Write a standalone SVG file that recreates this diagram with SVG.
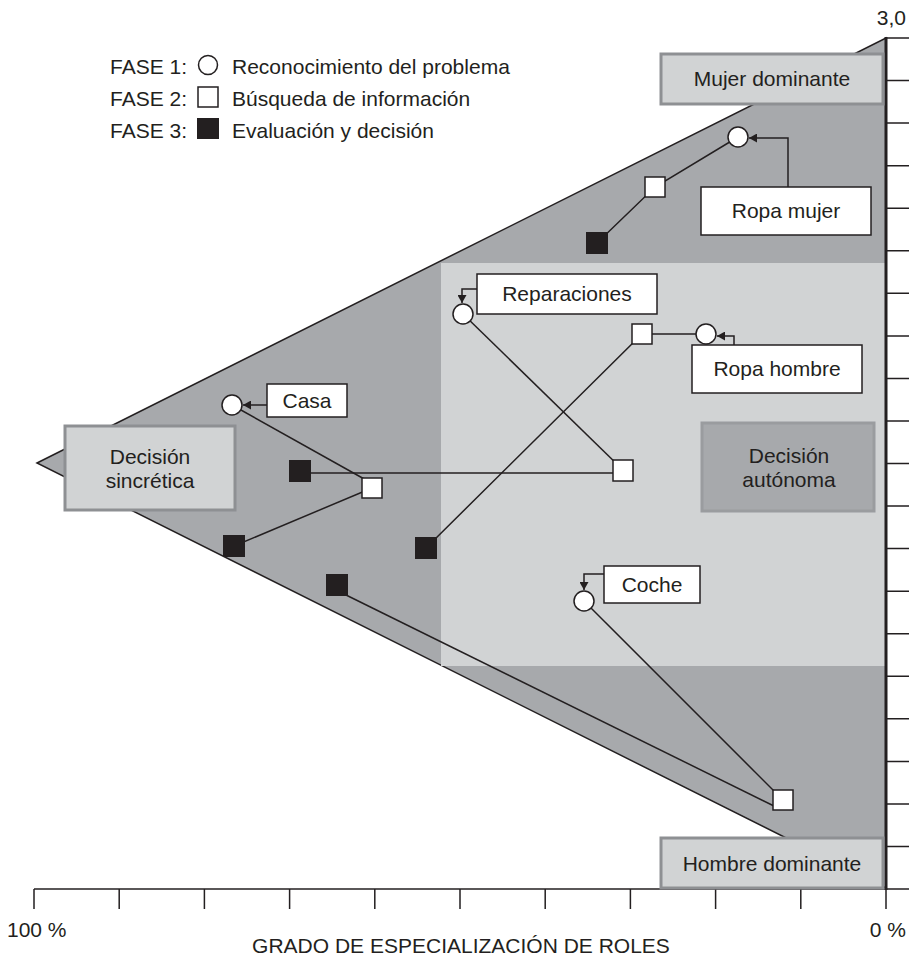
<svg xmlns="http://www.w3.org/2000/svg" width="912" height="956" viewBox="0 0 912 956">
  <style>
    text { font-family: "Liberation Sans", Arial, sans-serif; font-size: 21px; fill: #231f20; }
    .mid { text-anchor: middle; }
    .end { text-anchor: end; }
    .zone { fill: #d1d3d4; stroke: #8e9093; stroke-width: 3; }
    .zone-dark { fill: #a7a9ac; stroke: #9a9c9f; stroke-width: 3; }
    .label { fill: #ffffff; stroke: #231f20; stroke-width: 1.5; }
    .f1 { fill: #ffffff; stroke: #231f20; stroke-width: 1.5; }
    .f2 { fill: #ffffff; stroke: #231f20; stroke-width: 1.5; }
    .f3 { fill: #231f20; stroke: none; }
    .link { fill: none; stroke: #231f20; stroke-width: 1.5; }
    .pointer { fill: none; stroke: #231f20; stroke-width: 1.5; marker-end: url(#tip); }
    .axis { fill: none; stroke: #231f20; stroke-width: 1.5; }
  </style>
  <defs>
    <marker id="tip" markerUnits="userSpaceOnUse" markerWidth="9" markerHeight="9" refX="8" refY="4.5" orient="auto">
      <path d="M0,0 L8,4.5 L0,9 z" fill="#231f20"/>
    </marker>
  </defs>

  <!-- plot background: decision triangle and the autonomous band -->
  <g id="background">
    <polygon points="37,463 886,38 886,888" fill="#a7a9ac" stroke="#231f20" stroke-width="1.5" stroke-linejoin="miter"/>
    <rect x="441" y="263" width="445" height="403" fill="#d1d3d4"/>
  </g>

  <!-- axes -->
  <g id="axes">
    <line class="axis" x1="34" y1="889" x2="886" y2="889"/>
    <path class="axis" d="M34,889V909 M119.2,889V909 M204.4,889V909 M289.6,889V909 M374.8,889V909 M460,889V909 M545.2,889V909 M630.4,889V909 M715.6,889V909 M800.8,889V909 M886,889V909"/>
    <path class="axis" d="M886,38H909 M886,80.6H909 M886,123.1H909 M886,165.7H909 M886,208.2H909 M886,250.8H909 M886,293.3H909 M886,335.9H909 M886,378.4H909 M886,421H909 M886,463.5H909 M886,506.1H909 M886,548.6H909 M886,591.2H909 M886,633.7H909 M886,676.3H909 M886,718.8H909 M886,761.4H909 M886,803.9H909 M886,846.5H909 M886,889H909"/>
    <line x1="886" y1="37" x2="886" y2="890" stroke="#231f20" stroke-width="3"/>
    <text x="906" y="25" class="end">3,0</text>
    <text x="7" y="937">100 %</text>
    <text x="906" y="937" class="end">0 %</text>
    <text x="461" y="953" class="mid">GRADO DE ESPECIALIZACIÓN DE ROLES</text>
  </g>

  <!-- legend -->
  <g id="legend">
    <text x="110" y="74">FASE 1:</text>
    <circle class="f1" cx="208" cy="65" r="9.5"/>
    <text x="232" y="74">Reconocimiento del problema</text>
    <text x="110" y="106">FASE 2:</text>
    <rect class="f2" x="198" y="87" width="20" height="20"/>
    <text x="232" y="106">Búsqueda de información</text>
    <text x="110" y="138">FASE 3:</text>
    <rect class="f3" x="197" y="118" width="22" height="21"/>
    <text x="232" y="138">Evaluación y decisión</text>
  </g>

  <!-- zone captions -->
  <g id="zone-mujer">
    <rect class="zone" x="661" y="54" width="222" height="50"/>
    <text x="772" y="86" class="mid">Mujer dominante</text>
  </g>
  <g id="zone-hombre">
    <rect class="zone" x="661" y="838" width="222" height="50"/>
    <text x="772" y="871" class="mid">Hombre dominante</text>
  </g>
  <g id="zone-sincretica">
    <rect class="zone" x="65" y="426" width="170" height="84"/>
    <text x="150" y="464" class="mid">Decisión</text>
    <text x="150" y="488" class="mid">sincrética</text>
  </g>
  <g id="zone-autonoma">
    <rect class="zone-dark" x="702" y="423" width="172" height="88"/>
    <text x="789" y="463" class="mid">Decisión</text>
    <text x="789" y="487" class="mid">autónoma</text>
  </g>

  <!-- phase-to-phase links and label pointers -->
  <g id="connectors">
    <polyline class="link" points="597,243 655,187 738,137"/>
    <polyline class="link" points="463,314 623,470"/>
    <line class="link" x1="300" y1="473" x2="623" y2="473"/>
    <polyline class="link" points="232,405 366,480"/>
    <polyline class="link" points="372,488 234,546"/>
    <polyline class="link" points="706,334 642,334 426,548"/>
    <polyline class="link" points="584,601 776,793"/>
    <line class="link" x1="344" y1="594" x2="776" y2="807"/>

    <polyline class="pointer" points="788,187 788,138 749,138"/>
    <polyline class="pointer" points="477,289 462,289 462,303"/>
    <polyline class="pointer" points="734,345 734,336 717,336"/>
    <polyline class="pointer" points="267,405 243,405"/>
    <polyline class="pointer" points="604,574 584,574 584,590"/>
  </g>

  <!-- Ropa mujer -->
  <g id="ropa-mujer-f3"><rect class="f3" x="586" y="232" width="22" height="22"/></g>
  <g id="ropa-mujer-f2"><rect class="f2" x="645" y="177" width="20" height="20"/></g>
  <g id="ropa-mujer-f1"><circle class="f1" cx="738" cy="137" r="10"/></g>
  <g id="ropa-mujer-label">
    <rect class="label" x="701" y="187" width="170" height="48"/>
    <text x="786" y="218" class="mid">Ropa mujer</text>
  </g>

  <!-- Reparaciones -->
  <g id="reparaciones-f1"><circle class="f1" cx="463" cy="314" r="10"/></g>
  <g id="reparaciones-f2"><rect class="f2" x="613" y="460" width="20" height="21"/></g>
  <g id="reparaciones-f3"><rect class="f3" x="289" y="460" width="22" height="22"/></g>
  <g id="reparaciones-label">
    <rect class="label" x="477" y="274" width="180" height="40"/>
    <text x="567" y="301" class="mid">Reparaciones</text>
  </g>

  <!-- Ropa hombre -->
  <g id="ropa-hombre-f1"><circle class="f1" cx="706" cy="334" r="10"/></g>
  <g id="ropa-hombre-f2"><rect class="f2" x="632" y="324" width="20" height="20"/></g>
  <g id="ropa-hombre-f3"><rect class="f3" x="415" y="537" width="22" height="22"/></g>
  <g id="ropa-hombre-label">
    <rect class="label" x="692" y="345" width="170" height="48"/>
    <text x="777" y="376" class="mid">Ropa hombre</text>
  </g>

  <!-- Casa -->
  <g id="casa-f1"><circle class="f1" cx="232" cy="405" r="10"/></g>
  <g id="casa-f2"><rect class="f2" x="362" y="478" width="20" height="20"/></g>
  <g id="casa-f3"><rect class="f3" x="223" y="535" width="22" height="22"/></g>
  <g id="casa-label">
    <rect class="label" x="267" y="384" width="80" height="33"/>
    <text x="307" y="408" class="mid">Casa</text>
  </g>

  <!-- Coche -->
  <g id="coche-f1"><circle class="f1" cx="584" cy="601" r="10"/></g>
  <g id="coche-f2"><rect class="f2" x="773" y="790" width="20" height="20"/></g>
  <g id="coche-f3"><rect class="f3" x="326" y="574" width="22" height="22"/></g>
  <g id="coche-label">
    <rect class="label" x="604" y="566" width="96" height="37"/>
    <text x="652" y="592" class="mid">Coche</text>
  </g>
</svg>
